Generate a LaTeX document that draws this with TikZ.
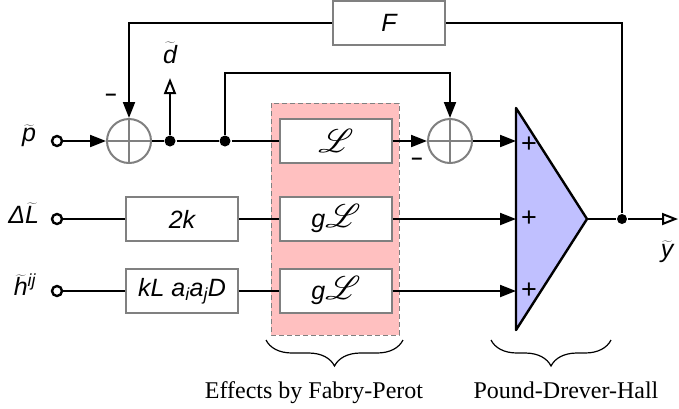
\RequirePackage{fix-cm}
\documentclass[tikz,border=0pt]{standalone}
\usepackage{fontspec}
\setmainfont{Liberation Serif}
\setsansfont{Liberation Sans}
\usepackage{mathrsfs}
\DeclareFontFamily{U}{rsfs}{\skewchar\font127 }
\DeclareFontShape{U}{rsfs}{m}{n}{<-> rsfs10}{}
\usetikzlibrary{arrows.meta,decorations.pathreplacing}
\definecolor{edge}{HTML}{808080}
\definecolor{blush}{HTML}{FFC0C0}
\definecolor{lilac}{HTML}{C0C0FF}
\newcommand\lblfont{\fontsize{25}{29}\selectfont\sffamily\itshape}
\newcommand\tld[1]{$\widetilde{\mbox{#1}}$}
\newcommand\scrL{{\fontsize{33}{36}\selectfont$\mathscr{L}$}}

\begin{document}
\begin{tikzpicture}[x=1pt,y=-1pt,line width=2pt,
 blk/.style={draw=edge,fill=white,minimum width=112pt,minimum height=44pt,
 inner sep=0pt,font=\lblfont},
 sum/.style={circle,draw=edge,minimum size=44pt,inner sep=0pt,
 path picture={\draw[edge] (path picture bounding box.north)--(path picture bounding box.south)
 (path picture bounding box.west)--(path picture bounding box.east);}},
 port/.style={circle,draw,line width=2.4pt,fill=white,minimum size=10pt,inner sep=0pt},
 dot/.style={circle,fill,minimum size=11pt,inner sep=0pt},
 lbl/.style={inner sep=0pt,font=\lblfont},
 sign/.style={inner sep=0pt,font=\fontsize{27}{30}\selectfont\sffamily},
 minus/.style={inner sep=0pt,font=\fontsize{20}{22}\selectfont\sffamily\bfseries},
 sig/.style={-{Triangle[length=16pt,width=12pt]}},
 opensig/.style={-{Triangle[open,length=16pt,width=12pt]}}]
\useasboundingbox (0,0) rectangle (679,408);
% Fabry-Perot area and PDH amplifier
\draw[fill=blush,draw=edge,line width=1pt,dash pattern=on 5pt off 3pt] (271,103) rectangle (399,335);
\draw[fill=lilac,line join=round,line width=2.4pt] (516,108) -- (587,219) -- (516,330) -- cycle;
% inputs
\node[lbl,anchor=east] (pl) at (37,136) {\tld{p}};
\node[lbl,anchor=east] (ll) at (40,213) {Δ\tld{L}};
\node[lbl,anchor=east] (hl) at (37,285) {\tld{h}\textsuperscript{ij}};
\node[port] (pin) at (57,141) {};
\node[port] (lin) at (57,219) {};
\node[port] (hin) at (57,291) {};
% blocks
\node[sum] (s1) at (129,141) {};
\node[dot] (j1) at (170,141) {};
\node[dot] (j2) at (225,141) {};
\coordinate (dtop) at (170,78);
\node[lbl] (dl) at (170,53) {\tld{d}};
\node[blk] (F) at (389,23) {F};
\node[blk] (L) at (336,141) {\scrL};
\node[blk] (gL2) at (336,219) {g\scrL};
\node[blk] (gL3) at (336,291) {g\scrL};
\node[blk] (k2) at (182,219) {2k};
\node[blk] (kL) at (182,291) {kL a\textsubscript{i}a\textsubscript{j}D};
\node[sum] (s2) at (450,141) {};
\node[minus] (m1) at (111,97) {–};
\node[minus] (m2) at (417,161) {–};
% amplifier ports
\coordinate (i1) at (516,141);
\coordinate (i2) at (516,219);
\coordinate (i3) at (516,291);
\coordinate (tip) at (587,219);
\node[sign] (a1) at (529,145) {+};
\node[sign] (a2) at (529,219) {+};
\node[sign] (a3) at (529,291) {+};
\node[dot,minimum size=10pt] (jo) at (622,219) {};
\coordinate (yend) at (678,219);
\node[lbl] (yl) at (667,252) {\tld{y}};
% signal paths
\draw[sig] (pin) -- (s1);
\draw (s1) -- (j1) -- (j2) -- (L);
\draw[opensig] (j1) -- (dtop);
\draw[sig] (j2) -- ++(0,-68) -| (s2);
\draw[sig] (L) -- (s2);
\draw[sig] (s2) -- (i1);
\draw (lin) -- (k2) -- (gL2);
\draw[sig] (gL2) -- (i2);
\draw (hin) -- (kL) -- (gL3);
\draw[sig] (gL3) -- (i3);
\draw (tip) -- (jo);
\draw[opensig] (jo) -- (yend);
\draw (jo) |- (F);
\draw[sig] (F) -| (s1);
% braces
\draw[decorate,decoration={brace,mirror,amplitude=26pt},line width=1.2pt] (266,340) -- (403,340);
\draw[decorate,decoration={brace,mirror,amplitude=26pt},line width=1.2pt] (491,340) -- (611,340);
\node[anchor=base,inner sep=0pt,font=\fontsize{24}{28}\selectfont] (fp) at (314,398) {Effects by Fabry-Perot};
\node[anchor=base,inner sep=0pt,font=\fontsize{24}{28}\selectfont] (pdh) at (566,398) {Pound-Drever-Hall};
\end{tikzpicture}
\end{document}
